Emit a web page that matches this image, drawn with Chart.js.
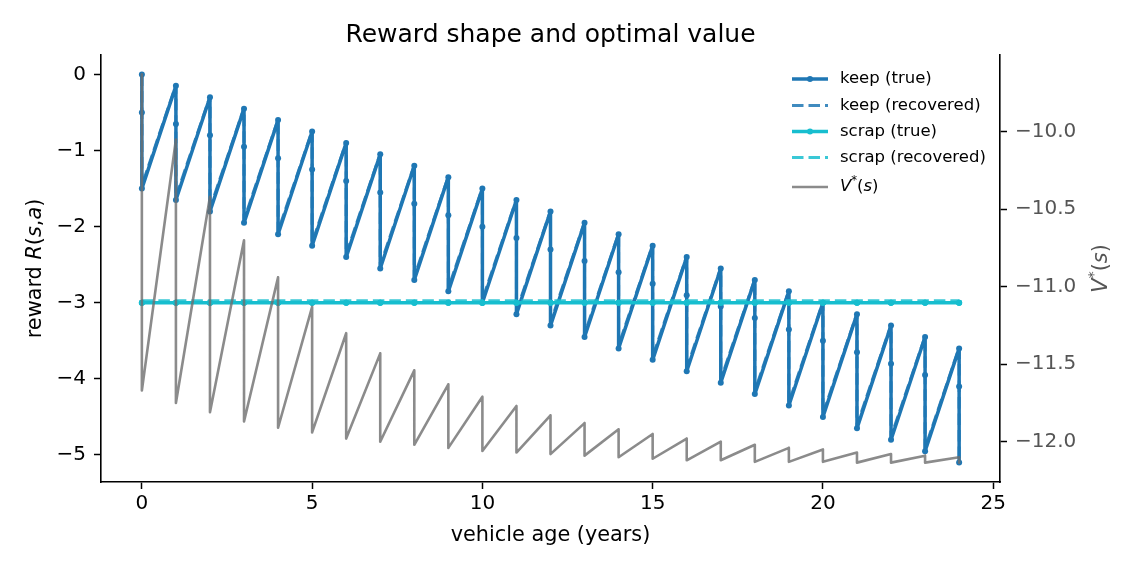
<!DOCTYPE html>
<html>
<head>
<meta charset="utf-8">
<script src="https://cdn.jsdelivr.net/npm/chart.js@4.4.1/dist/chart.umd.min.js"></script>
<style>
  html, body { margin: 0; padding: 0; background: #fff; }
  #wrap { width: 1140px; height: 570px; }
</style>
</head>
<body>
<div id="wrap"><canvas id="chart" width="1140" height="570"></canvas></div>
<script>
// one entry per state (age, mileage level), sorted by age then mileage
const ages = [
  0, 0, 0,   1, 1, 1,   2, 2, 2,   3, 3, 3,   4, 4, 4,
  5, 5, 5,   6, 6, 6,   7, 7, 7,   8, 8, 8,   9, 9, 9,
  10, 10, 10, 11, 11, 11, 12, 12, 12, 13, 13, 13, 14, 14, 14,
  15, 15, 15, 16, 16, 16, 17, 17, 17, 18, 18, 18, 19, 19, 19,
  20, 20, 20, 21, 21, 21, 22, 22, 22, 23, 23, 23, 24, 24, 24
];

const keepTrue = [
  0.00, -0.50, -1.50,   -0.15, -0.65, -1.65,   -0.30, -0.80, -1.80,
  -0.45, -0.95, -1.95,  -0.60, -1.10, -2.10,   -0.75, -1.25, -2.25,
  -0.90, -1.40, -2.40,  -1.05, -1.55, -2.55,   -1.20, -1.70, -2.70,
  -1.35, -1.85, -2.85,  -1.50, -2.00, -3.00,   -1.65, -2.15, -3.15,
  -1.80, -2.30, -3.30,  -1.95, -2.45, -3.45,   -2.10, -2.60, -3.60,
  -2.25, -2.75, -3.75,  -2.40, -2.90, -3.90,   -2.55, -3.05, -4.05,
  -2.70, -3.20, -4.20,  -2.85, -3.35, -4.35,   -3.00, -3.50, -4.50,
  -3.15, -3.65, -4.65,  -3.30, -3.80, -4.80,   -3.45, -3.95, -4.95,
  -3.60, -4.10, -5.10
];

const keepRecovered = [
  0.00, -0.47, -1.46,   -0.14, -0.62, -1.61,   -0.29, -0.77, -1.76,
  -0.44, -0.92, -1.91,  -0.59, -1.07, -2.06,   -0.74, -1.22, -2.21,
  -0.89, -1.37, -2.36,  -1.04, -1.52, -2.51,   -1.19, -1.67, -2.66,
  -1.34, -1.82, -2.81,  -1.49, -1.97, -2.96,   -1.64, -2.12, -3.11,
  -1.79, -2.27, -3.26,  -1.94, -2.42, -3.41,   -2.09, -2.57, -3.56,
  -2.24, -2.72, -3.71,  -2.39, -2.87, -3.86,   -2.54, -3.02, -4.01,
  -2.69, -3.17, -4.16,  -2.84, -3.32, -4.31,   -2.99, -3.47, -4.46,
  -3.14, -3.62, -4.61,  -3.29, -3.77, -4.76,   -3.44, -3.92, -4.91,
  -3.59, -4.07, -5.06
];

const scrapTrue = [
  -3, -3, -3,  -3, -3, -3,  -3, -3, -3,  -3, -3, -3,  -3, -3, -3,
  -3, -3, -3,  -3, -3, -3,  -3, -3, -3,  -3, -3, -3,  -3, -3, -3,
  -3, -3, -3,  -3, -3, -3,  -3, -3, -3,  -3, -3, -3,  -3, -3, -3,
  -3, -3, -3,  -3, -3, -3,  -3, -3, -3,  -3, -3, -3,  -3, -3, -3,
  -3, -3, -3,  -3, -3, -3,  -3, -3, -3,  -3, -3, -3,  -3, -3, -3
];

const scrapRecovered = [
  -2.975, -2.975, -2.975,  -2.975, -2.975, -2.975,  -2.975, -2.975, -2.975,
  -2.975, -2.975, -2.975,  -2.975, -2.975, -2.975,  -2.975, -2.975, -2.975,
  -2.975, -2.975, -2.975,  -2.975, -2.975, -2.975,  -2.975, -2.975, -2.975,
  -2.975, -2.975, -2.975,  -2.975, -2.975, -2.975,  -2.975, -2.975, -2.975,
  -2.975, -2.975, -2.975,  -2.975, -2.975, -2.975,  -2.975, -2.975, -2.975,
  -2.975, -2.975, -2.975,  -2.975, -2.975, -2.975,  -2.975, -2.975, -2.975,
  -2.975, -2.975, -2.975,  -2.975, -2.975, -2.975,  -2.975, -2.975, -2.975,
  -2.975, -2.975, -2.975,  -2.975, -2.975, -2.975,  -2.975, -2.975, -2.975,
  -2.975, -2.975, -2.975
];

const vStar = [
  -9.63, -10.25, -11.67,   -10.05, -10.62, -11.75,  -10.42, -10.90, -11.81,
  -10.70, -11.12, -11.87,  -10.94, -11.29, -11.91,  -11.13, -11.42, -11.94,
  -11.30, -11.54, -11.98,  -11.43, -11.63, -12.00,  -11.54, -11.71, -12.02,
  -11.63, -11.78, -12.04,  -11.71, -11.84, -12.06,  -11.77, -11.88, -12.07,
  -11.83, -11.92, -12.08,  -11.88, -11.96, -12.09,  -11.92, -11.99, -12.10,
  -11.95, -12.01, -12.11,  -11.98, -12.03, -12.12,  -12.00, -12.05, -12.12,
  -12.02, -12.06, -12.13,  -12.04, -12.08, -12.13,  -12.05, -12.09, -12.13,
  -12.07, -12.10, -12.135, -12.08, -12.11, -12.135, -12.09, -12.11, -12.135,
  -12.10, -12.12, -12.135
];

const seriesLabels = ['keep (true)', 'keep (recovered)', 'scrap (true)', 'scrap (recovered)', 'V*(s)'];
const xTicks = [0, 5, 10, 15, 20, 25];
const yTicks = [-5, -4, -3, -2, -1, 0];
const y2Ticks = [-12.0, -11.5, -11.0, -10.5, -10.0];

const FONT = '"DejaVu Sans", sans-serif';
const BLUE = '#1f77b4';
const BLUE_LIGHT = 'rgba(31, 119, 180, 0.85)';
const CYAN = '#17becf';
const CYAN_LIGHT = 'rgba(23, 190, 207, 0.85)';
const GRAY = 'rgba(110, 110, 110, 0.8)';
const DASH = [11.5, 5];

const toPoints = (ys) => ys.map((y, i) => ({ x: ages[i], y: y }));
const minus = (s) => s.replace('-', '\u2212');

// text with italic / superscript pieces, like matplotlib mathtext
const fontFor = (style, size) => {
  if (style === 'i') return `italic ${size}px ${FONT}`;
  if (style === 's') return `${size * 0.7}px ${FONT}`;
  return `${size}px ${FONT}`;
};

const drawRich = (ctx, parts, x, y, size, align) => {
  const widths = parts.map(([t, st]) => { ctx.font = fontFor(st, size); return ctx.measureText(t).width; });
  const total = widths.reduce((a, b) => a + b, 0);
  let cx = align === 'center' ? x - total / 2 : x;
  ctx.textAlign = 'left';
  parts.forEach(([t, st], i) => {
    ctx.font = fontFor(st, size);
    ctx.fillText(t, cx, st === 's' ? y - size * 0.38 : y);
    cx += widths[i];
  });
};

const legendRows = [
  { color: BLUE, width: 3.5, dash: [], marker: true, y: 79 },
  { color: BLUE_LIGHT, width: 3, dash: DASH, marker: false, y: 105.5 },
  { color: CYAN, width: 3.5, dash: [], marker: true, y: 131.5 },
  { color: CYAN_LIGHT, width: 3, dash: DASH, marker: false, y: 157.5 },
  { color: GRAY, width: 2.6, dash: [], marker: false, y: 187 }
];

const decorations = {
  id: 'decorations',
  afterDraw(chart) {
    const ctx = chart.ctx;
    const area = chart.chartArea;
    ctx.save();
    ctx.fillStyle = '#000';
    ctx.textBaseline = 'middle';

    // title
    ctx.font = `25px ${FONT}`;
    ctx.textAlign = 'center';
    ctx.fillText('Reward shape and optimal value', (area.left + area.right) / 2, 35);

    // x label
    ctx.font = `20.8px ${FONT}`;
    ctx.fillText('vehicle age (years)', (area.left + area.right) / 2, 536);

    // left y label
    ctx.save();
    ctx.translate(36, (area.top + area.bottom) / 2);
    ctx.rotate(-Math.PI / 2);
    drawRich(ctx, [['reward ', 'n'], ['R', 'i'], ['(', 'n'], ['s', 'i'], [',', 'n'], ['a', 'i'], [')', 'n']], 0, 0, 20.8, 'center');
    ctx.restore();

    // right y label
    ctx.save();
    ctx.fillStyle = '#555';
    ctx.translate(1102, (area.top + area.bottom) / 2);
    ctx.rotate(-Math.PI / 2);
    drawRich(ctx, [['V', 'i'], ['*', 's'], ['(', 'n'], ['s', 'i'], [')', 'n']], 0, 0, 20.8, 'center');
    ctx.restore();

    // legend
    legendRows.forEach((row, i) => {
      ctx.save();
      ctx.strokeStyle = row.color;
      ctx.lineWidth = row.width;
      ctx.setLineDash(row.dash);
      ctx.beginPath();
      ctx.moveTo(792, row.y);
      ctx.lineTo(828, row.y);
      ctx.stroke();
      if (row.marker) {
        ctx.fillStyle = row.color;
        ctx.beginPath();
        ctx.arc(810, row.y, 3, 0, Math.PI * 2);
        ctx.fill();
      }
      ctx.restore();
      ctx.fillStyle = '#000';
      if (i === 4) {
        drawRich(ctx, [['V', 'i'], ['*', 's'], ['(', 'n'], ['s', 'i'], [')', 'n']], 840, row.y, 16.5, 'left');
      } else {
        ctx.font = `16.5px ${FONT}`;
        ctx.textAlign = 'left';
        ctx.fillText(seriesLabels[i], 840, row.y);
      }
    });
    ctx.restore();
  }
};

const axisCommon = {
  grid: { drawOnChartArea: false, drawTicks: true, tickLength: 7, tickWidth: 1.5, tickColor: '#000' },
  border: { display: true, color: '#000', width: 1.6 }
};

new Chart(document.getElementById('chart'), {
  type: 'line',
  data: {
    datasets: [
      { label: seriesLabels[4], data: toPoints(vStar), yAxisID: 'y2', borderColor: GRAY, borderWidth: 2.6, pointRadius: 0, order: 0 },
      { label: seriesLabels[3], data: toPoints(scrapRecovered), yAxisID: 'y', borderColor: CYAN_LIGHT, borderWidth: 3, borderDash: DASH, pointRadius: 0, order: 1 },
      { label: seriesLabels[2], data: toPoints(scrapTrue), yAxisID: 'y', borderColor: CYAN, borderWidth: 3.5, pointRadius: 3, pointBackgroundColor: CYAN, pointBorderWidth: 0, order: 2 },
      { label: seriesLabels[1], data: toPoints(keepRecovered), yAxisID: 'y', borderColor: BLUE_LIGHT, borderWidth: 3, borderDash: DASH, pointRadius: 0, order: 3 },
      { label: seriesLabels[0], data: toPoints(keepTrue), yAxisID: 'y', borderColor: BLUE, borderWidth: 3.5, pointRadius: 3, pointBackgroundColor: BLUE, pointBorderWidth: 0, order: 4 }
    ]
  },
  options: {
    responsive: false,
    animation: false,
    devicePixelRatio: 1,
    events: [],
    layout: { padding: { top: 55, left: 0, right: 0, bottom: 0 } },
    elements: { line: { tension: 0, fill: false, borderJoinStyle: 'round' } },
    plugins: { legend: { display: false }, tooltip: { enabled: false }, title: { display: false } },
    scales: {
      x: {
        type: 'linear', position: 'bottom', min: -1.2, max: 25.2,
        ...axisCommon,
        afterBuildTicks: (axis) => { axis.ticks = xTicks.map(v => ({ value: v })); },
        afterFit: (axis) => { axis.height = 88; },
        ticks: { color: '#000', font: { family: FONT, size: 20 }, padding: 3, maxRotation: 0, callback: (v) => minus(String(v)) }
      },
      y: {
        type: 'linear', position: 'left', min: -5.355, max: 0.255,
        ...axisCommon,
        afterBuildTicks: (axis) => { axis.ticks = yTicks.map(v => ({ value: v })); },
        afterFit: (axis) => { axis.width = 101; },
        ticks: { color: '#000', font: { family: FONT, size: 20 }, padding: 8, callback: (v) => minus(String(v)) }
      },
      y2: {
        type: 'linear', position: 'right', min: -12.26, max: -9.505,
        ...axisCommon,
        afterBuildTicks: (axis) => { axis.ticks = y2Ticks.map(v => ({ value: v })); },
        afterFit: (axis) => { axis.width = 140; },
        ticks: { color: '#555', font: { family: FONT, size: 20 }, padding: 8, callback: (v) => minus(v.toFixed(1)) }
      }
    }
  },
  plugins: [decorations]
});
</script>
</body>
</html>
